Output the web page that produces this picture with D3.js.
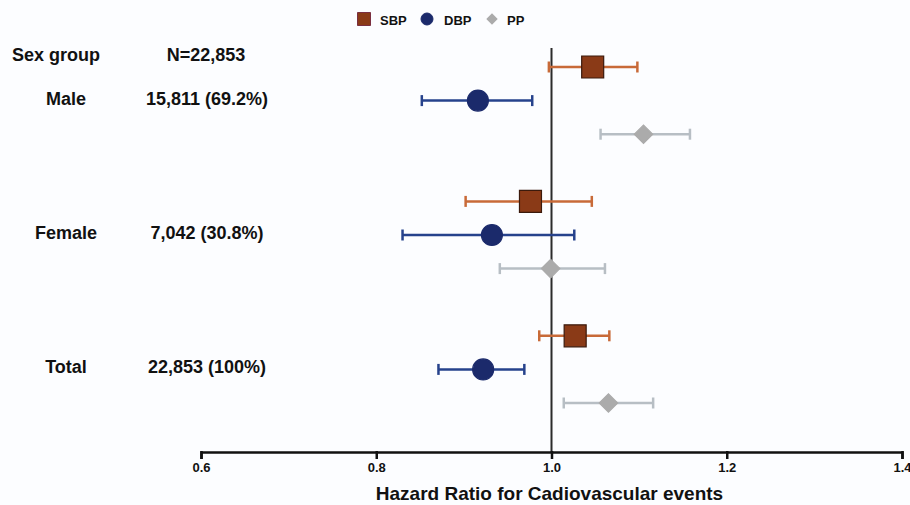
<!DOCTYPE html>
<html>
<head>
    <meta charset="utf-8">
    <script src="https://cdn.jsdelivr.net/npm/d3@7"></script>
    <title>Hazard Ratio forest plot</title>
    <style>
        body { margin: 0; background: #fcfdff; }
        svg text { font-family: "Liberation Sans", Arial, sans-serif; font-weight: bold; fill: #111; }
    </style>
</head>
<body>
    <div id="chart">
        <svg width="910" height="505"></svg>
    </div>

    <script>
        // values
        var groups = ['Male', 'Female', 'Total'];
        var groupN = ['15,811 (69.2%)', '7,042 (30.8%)', '22,853 (100%)'];
        var headerLabels = ['Sex group', 'N=22,853'];

        var sbpHR = [1.047, 0.976, 1.027];
        var sbpLo = [0.997, 0.902, 0.986];
        var sbpHi = [1.098, 1.046, 1.066];

        var dbpHR = [0.916, 0.932, 0.922];
        var dbpLo = [0.852, 0.830, 0.871];
        var dbpHi = [0.978, 1.026, 0.969];

        var ppHR = [1.105, 0.999, 1.065];
        var ppLo = [1.056, 0.941, 1.014];
        var ppHi = [1.158, 1.061, 1.116];

        var xTicks = [0.6, 0.8, 1.0, 1.2, 1.4];

        var series = [
            { name: 'SBP', hr: sbpHR, lo: sbpLo, hi: sbpHi, offset: 0,
              shape: d3.symbolSquare, size: 484, rotate: 0, fill: '#8a3a17', stroke: '#3b1a0c', line: '#c86a38',
              legendSize: 169 },
            { name: 'DBP', hr: dbpHR, lo: dbpLo, hi: dbpHi, offset: 1,
              shape: d3.symbolCircle, size: 346, rotate: 0, fill: '#1b2a6b', stroke: '#1b2a6b', line: '#26428c',
              legendSize: 113 },
            { name: 'PP', hr: ppHR, lo: ppLo, hi: ppHi, offset: 2,
              shape: d3.symbolSquare, size: 170, rotate: 45, fill: '#ababab', stroke: '#ababab', line: '#b7bec4',
              legendSize: 50 }
        ];

        var svg = d3.select('#chart svg');
        var axisY = 452;

        var x = d3.scaleLinear()
            .domain([0.6, 1.4])
            .range([201, 902]);

        // row index: group g, series s -> g*4 + s
        var y = d3.scaleLinear()
            .domain([0, 10])
            .range([67, 403]);

        // reference line at HR = 1
        svg.append('line')
            .attr('x1', x(1)).attr('x2', x(1))
            .attr('y1', 48).attr('y2', axisY)
            .style('stroke', '#2b2b2b')
            .style('stroke-width', 2);

        // x axis
        var xAxis = d3.axisBottom(x)
            .tickValues(xTicks)
            .tickFormat(d3.format('.1f'))
            .tickSizeOuter(0)
            .tickSize(7)
            .tickPadding(4);

        var axisG = svg.append('g')
            .attr('transform', 'translate(0,' + axisY + ')')
            .call(xAxis);
        axisG.select('.domain').style('stroke', '#111').style('stroke-width', 2.5);
        axisG.selectAll('.tick line').style('stroke', '#111').style('stroke-width', 2.5).attr('y1', -1);
        axisG.selectAll('.tick text')
            .style('font-size', '13px')
            .style('font-family', '"Liberation Sans", Arial, sans-serif')
            .style('font-weight', 'bold')
            .style('fill', '#111');

        svg.append('text')
            .attr('x', x(1) - 2)
            .attr('y', 500)
            .attr('text-anchor', 'middle')
            .style('font-size', '19px')
            .text('Hazard Ratio for Cadiovascular events');

        // left labels
        svg.append('text')
            .attr('x', 12).attr('y', 55)
            .attr('dominant-baseline', 'central')
            .style('font-size', '18px')
            .text(headerLabels[0]);
        svg.append('text')
            .attr('x', 206).attr('y', 55)
            .attr('text-anchor', 'middle')
            .attr('dominant-baseline', 'central')
            .style('font-size', '18px')
            .text(headerLabels[1]);

        groups.forEach(function(g, i) {
            var yy = y(i * 4 + 1) - 2;
            svg.append('text')
                .attr('x', 66).attr('y', yy)
                .attr('text-anchor', 'middle')
                .attr('dominant-baseline', 'central')
                .style('font-size', '18px')
                .text(g);
            svg.append('text')
                .attr('x', 207).attr('y', yy)
                .attr('text-anchor', 'middle')
                .attr('dominant-baseline', 'central')
                .style('font-size', '18px')
                .text(groupN[i]);
        });

        // error bars and markers
        var capH = 5.5;
        series.forEach(function(s) {
            var g = svg.append('g').attr('class', 'series-' + s.name);
            var rows = groups.map(function(name, i) {
                return { hr: s.hr[i], lo: s.lo[i], hi: s.hi[i], row: i * 4 + s.offset };
            });

            g.selectAll('line.ci').data(rows).enter().append('line')
                .attr('class', 'ci')
                .attr('x1', function(d) { return x(d.lo); })
                .attr('x2', function(d) { return x(d.hi); })
                .attr('y1', function(d) { return y(d.row); })
                .attr('y2', function(d) { return y(d.row); })
                .style('stroke', s.line)
                .style('stroke-width', 2.5);

            ['lo', 'hi'].forEach(function(k) {
                g.selectAll('line.cap-' + k).data(rows).enter().append('line')
                    .attr('class', 'cap-' + k)
                    .attr('x1', function(d) { return x(d[k]); })
                    .attr('x2', function(d) { return x(d[k]); })
                    .attr('y1', function(d) { return y(d.row) - capH; })
                    .attr('y2', function(d) { return y(d.row) + capH; })
                    .style('stroke', s.line)
                    .style('stroke-width', 2.5);
            });

            g.selectAll('path.mark').data(rows).enter().append('path')
                .attr('class', 'mark')
                .attr('d', d3.symbol().type(s.shape).size(s.size))
                .attr('transform', function(d) {
                    return 'translate(' + x(d.hr) + ',' + y(d.row) + ') rotate(' + s.rotate + ')';
                })
                .style('fill', s.fill)
                .style('stroke', s.stroke)
                .style('stroke-width', 1.2);
        });

        // legend
        var legendX = [364, 427, 492];
        var legendTextX = [380, 444, 507];
        var legend = svg.append('g').attr('class', 'legend');
        series.forEach(function(s, i) {
            legend.append('path')
                .attr('d', d3.symbol().type(s.shape).size(s.legendSize))
                .attr('transform', 'translate(' + legendX[i] + ',19) rotate(' + s.rotate + ')')
                .style('fill', s.fill)
                .style('stroke', s.name === 'SBP' ? '#7a2f40' : s.stroke)
                .style('stroke-width', 1);
            legend.append('text')
                .attr('x', legendTextX[i])
                .attr('y', 20)
                .attr('dominant-baseline', 'central')
                .style('font-size', '13px')
                .text(s.name);
        });
    </script>
</body>
</html>
